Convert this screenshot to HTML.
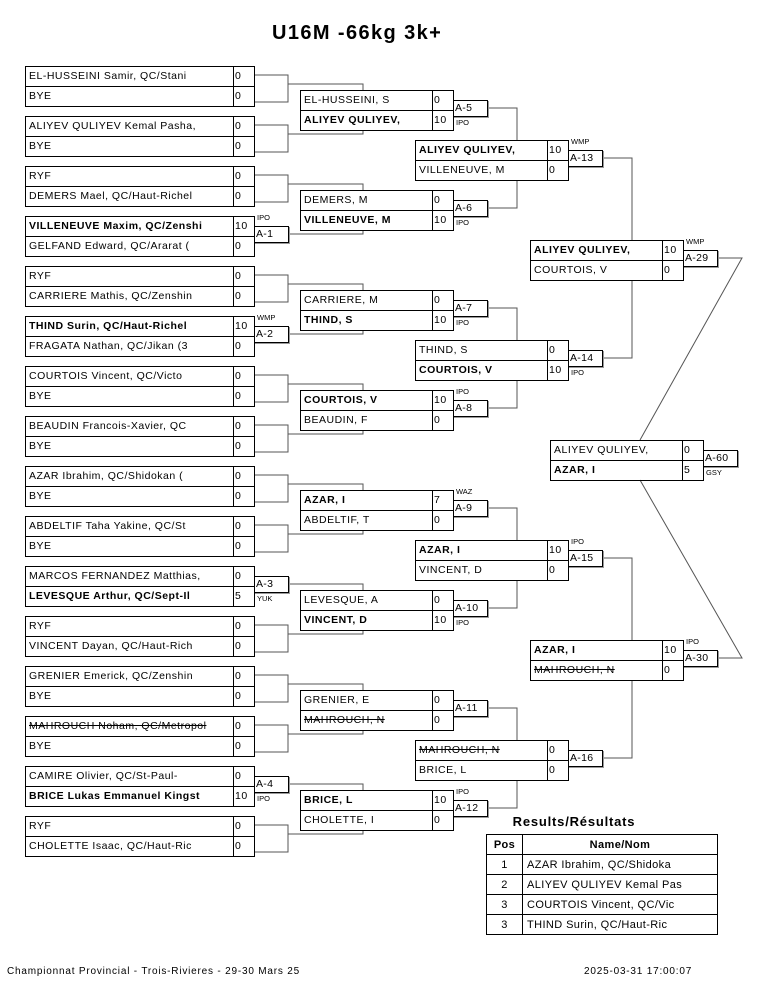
<!DOCTYPE html>
<html><head><meta charset="utf-8"><style>
*{margin:0;padding:0;box-sizing:border-box}
body{width:765px;height:990px;background:#fff;position:relative;font-family:"Liberation Sans",sans-serif;color:#000;overflow:hidden}
.m{position:absolute;display:grid;height:41px;border-top:1px solid #000;border-left:1px solid #000}
.r1{left:25px;width:230px;grid-template-columns:1fr 21px}
.r2{left:300px;width:154px;grid-template-columns:1fr 21px}
.r3{left:415px;width:154px;grid-template-columns:1fr 21px}
.r4{left:530px;width:154px;grid-template-columns:1fr 21px}
.rf{left:550px;width:154px;grid-template-columns:1fr 21px}
.m div{height:20px;border-right:1px solid #000;border-bottom:1px solid #000;font-size:10.5px;line-height:19px;white-space:nowrap;overflow:hidden;letter-spacing:.5px}
.m div:nth-child(odd){padding-left:3px}
.m div:nth-child(even){padding-left:1px}
.b{font-weight:bold}
.x{text-decoration:line-through}
.l{position:absolute;width:35px;height:17px;border:1px solid #000;box-shadow:1px 1px 0 #999;font-size:10.5px;line-height:15px;padding-left:1px;background:#fff;letter-spacing:.3px}
.t{position:absolute;font-size:7.5px;line-height:8px}
svg{position:absolute;left:0;top:0}
h1{position:absolute;left:272px;top:22px;font-size:20px;font-weight:bold;letter-spacing:1.4px;white-space:nowrap}
table{position:absolute;left:486px;top:834px;width:232px;border-collapse:collapse;font-size:11px}
td,th{border:1px solid #000;height:20px;padding:0 4px;letter-spacing:.4px}
td:first-child,th:first-child{text-align:center;width:36px}
.f{position:absolute;top:966px;font-size:10px;letter-spacing:.8px;white-space:nowrap}
</style></head><body>
<h1>U16M -66kg 3k+</h1>
<svg width="765" height="990"><g fill="none" stroke="#555" stroke-width="1">
<path d="M254 75H288V102H254M288 84H363V90"/>
<path d="M254 125H288V152H254M288 134H363V130"/>
<path d="M254 175H288V202H254M288 184H363V190"/>
<path d="M288 234H363V230"/>
<path d="M254 275H288V302H254M288 284H363V290"/>
<path d="M288 334H363V330"/>
<path d="M254 375H288V402H254M288 384H363V390"/>
<path d="M254 425H288V452H254M288 434H363V430"/>
<path d="M254 475H288V502H254M288 484H363V490"/>
<path d="M254 525H288V552H254M288 534H363V530"/>
<path d="M288 584H363V590"/>
<path d="M254 625H288V652H254M288 634H363V630"/>
<path d="M254 675H288V702H254M288 684H363V690"/>
<path d="M254 725H288V752H254M288 734H363V730"/>
<path d="M288 784H363V790"/>
<path d="M254 825H288V852H254M288 834H363V830"/>
<path d="M487 108H517V140M487 208H517V180M487 308H517V340M487 408H517V380M487 508H517V540M487 608H517V580M487 708H517V740M487 808H517V780"/>
<path d="M602 158H632V240M602 358H632V280M602 558H632V640M602 758H632V680"/>
<path d="M717 258H742L640 440M717 658H742L640 480"/>
</g></svg>

<div class="m r1" style="top:66px"><div>EL-HUSSEINI Samir, QC/Stani</div><div>0</div><div>BYE</div><div>0</div></div>
<div class="m r1" style="top:116px"><div>ALIYEV QULIYEV Kemal Pasha,</div><div>0</div><div>BYE</div><div>0</div></div>
<div class="m r1" style="top:166px"><div>RYF</div><div>0</div><div>DEMERS Mael, QC/Haut-Richel</div><div>0</div></div>
<div class="m r1" style="top:216px"><div class="b">VILLENEUVE Maxim, QC/Zenshi</div><div>10</div><div>GELFAND Edward, QC/Ararat (</div><div>0</div></div>
<div class="m r1" style="top:266px"><div>RYF</div><div>0</div><div>CARRIERE Mathis, QC/Zenshin</div><div>0</div></div>
<div class="m r1" style="top:316px"><div class="b">THIND Surin, QC/Haut-Richel</div><div>10</div><div>FRAGATA Nathan, QC/Jikan (3</div><div>0</div></div>
<div class="m r1" style="top:366px"><div>COURTOIS Vincent, QC/Victo</div><div>0</div><div>BYE</div><div>0</div></div>
<div class="m r1" style="top:416px"><div>BEAUDIN Francois-Xavier, QC</div><div>0</div><div>BYE</div><div>0</div></div>
<div class="m r1" style="top:466px"><div>AZAR Ibrahim, QC/Shidokan (</div><div>0</div><div>BYE</div><div>0</div></div>
<div class="m r1" style="top:516px"><div>ABDELTIF Taha Yakine, QC/St</div><div>0</div><div>BYE</div><div>0</div></div>
<div class="m r1" style="top:566px"><div>MARCOS FERNANDEZ Matthias,</div><div>0</div><div class="b">LEVESQUE Arthur, QC/Sept-Il</div><div>5</div></div>
<div class="m r1" style="top:616px"><div>RYF</div><div>0</div><div>VINCENT Dayan, QC/Haut-Rich</div><div>0</div></div>
<div class="m r1" style="top:666px"><div>GRENIER Emerick, QC/Zenshin</div><div>0</div><div>BYE</div><div>0</div></div>
<div class="m r1" style="top:716px"><div class="x">MAHROUCH Noham, QC/Metropol</div><div>0</div><div>BYE</div><div>0</div></div>
<div class="m r1" style="top:766px"><div>CAMIRE Olivier, QC/St-Paul-</div><div>0</div><div class="b">BRICE Lukas Emmanuel Kingst</div><div>10</div></div>
<div class="m r1" style="top:816px"><div>RYF</div><div>0</div><div>CHOLETTE Isaac, QC/Haut-Ric</div><div>0</div></div>

<div class="l" style="left:254px;top:226px">A-1</div><div class="t" style="left:257px;top:214px">IPO</div>
<div class="l" style="left:254px;top:326px">A-2</div><div class="t" style="left:257px;top:314px">WMP</div>
<div class="l" style="left:254px;top:576px">A-3</div><div class="t" style="left:257px;top:595px">YUK</div>
<div class="l" style="left:254px;top:776px">A-4</div><div class="t" style="left:257px;top:795px">IPO</div>

<div class="m r2" style="top:90px"><div>EL-HUSSEINI, S</div><div>0</div><div class="b">ALIYEV QULIYEV,</div><div>10</div></div>
<div class="m r2" style="top:190px"><div>DEMERS, M</div><div>0</div><div class="b">VILLENEUVE, M</div><div>10</div></div>
<div class="m r2" style="top:290px"><div>CARRIERE, M</div><div>0</div><div class="b">THIND, S</div><div>10</div></div>
<div class="m r2" style="top:390px"><div class="b">COURTOIS, V</div><div>10</div><div>BEAUDIN, F</div><div>0</div></div>
<div class="m r2" style="top:490px"><div class="b">AZAR, I</div><div>7</div><div>ABDELTIF, T</div><div>0</div></div>
<div class="m r2" style="top:590px"><div>LEVESQUE, A</div><div>0</div><div class="b">VINCENT, D</div><div>10</div></div>
<div class="m r2" style="top:690px"><div>GRENIER, E</div><div>0</div><div class="x">MAHROUCH, N</div><div>0</div></div>
<div class="m r2" style="top:790px"><div class="b">BRICE, L</div><div>10</div><div>CHOLETTE, I</div><div>0</div></div>

<div class="l" style="left:453px;top:100px">A-5</div><div class="t" style="left:456px;top:119px">IPO</div>
<div class="l" style="left:453px;top:200px">A-6</div><div class="t" style="left:456px;top:219px">IPO</div>
<div class="l" style="left:453px;top:300px">A-7</div><div class="t" style="left:456px;top:319px">IPO</div>
<div class="l" style="left:453px;top:400px">A-8</div><div class="t" style="left:456px;top:388px">IPO</div>
<div class="l" style="left:453px;top:500px">A-9</div><div class="t" style="left:456px;top:488px">WAZ</div>
<div class="l" style="left:453px;top:600px">A-10</div><div class="t" style="left:456px;top:619px">IPO</div>
<div class="l" style="left:453px;top:700px">A-11</div>
<div class="l" style="left:453px;top:800px">A-12</div><div class="t" style="left:456px;top:788px">IPO</div>

<div class="m r3" style="top:140px"><div class="b">ALIYEV QULIYEV,</div><div>10</div><div>VILLENEUVE, M</div><div>0</div></div>
<div class="m r3" style="top:340px"><div>THIND, S</div><div>0</div><div class="b">COURTOIS, V</div><div>10</div></div>
<div class="m r3" style="top:540px"><div class="b">AZAR, I</div><div>10</div><div>VINCENT, D</div><div>0</div></div>
<div class="m r3" style="top:740px"><div class="x">MAHROUCH, N</div><div>0</div><div>BRICE, L</div><div>0</div></div>

<div class="l" style="left:568px;top:150px">A-13</div><div class="t" style="left:571px;top:138px">WMP</div>
<div class="l" style="left:568px;top:350px">A-14</div><div class="t" style="left:571px;top:369px">IPO</div>
<div class="l" style="left:568px;top:550px">A-15</div><div class="t" style="left:571px;top:538px">IPO</div>
<div class="l" style="left:568px;top:750px">A-16</div>

<div class="m r4" style="top:240px"><div class="b">ALIYEV QULIYEV,</div><div>10</div><div>COURTOIS, V</div><div>0</div></div>
<div class="m r4" style="top:640px"><div class="b">AZAR, I</div><div>10</div><div class="x">MAHROUCH, N</div><div>0</div></div>
<div class="l" style="left:683px;top:250px">A-29</div><div class="t" style="left:686px;top:238px">WMP</div>
<div class="l" style="left:683px;top:650px">A-30</div><div class="t" style="left:686px;top:638px">IPO</div>

<div class="m rf" style="top:440px"><div>ALIYEV QULIYEV,</div><div>0</div><div class="b">AZAR, I</div><div>5</div></div>
<div class="l" style="left:703px;top:450px">A-60</div><div class="t" style="left:706px;top:469px">GSY</div>

<div style="position:absolute;left:486px;top:814px;width:176px;text-align:center;font-size:13px;font-weight:bold;letter-spacing:.8px;white-space:nowrap">Results/Résultats</div>
<table>
<tr><th>Pos</th><th>Name/Nom</th></tr>
<tr><td>1</td><td>AZAR Ibrahim, QC/Shidoka</td></tr>
<tr><td>2</td><td>ALIYEV QULIYEV Kemal Pas</td></tr>
<tr><td>3</td><td>COURTOIS Vincent, QC/Vic</td></tr>
<tr><td>3</td><td>THIND Surin, QC/Haut-Ric</td></tr>
</table>

<div class="f" style="left:7px">Championnat Provincial - Trois-Rivieres - 29-30 Mars 25</div>
<div class="f" style="left:584px">2025-03-31 17:00:07</div>
</body></html>
